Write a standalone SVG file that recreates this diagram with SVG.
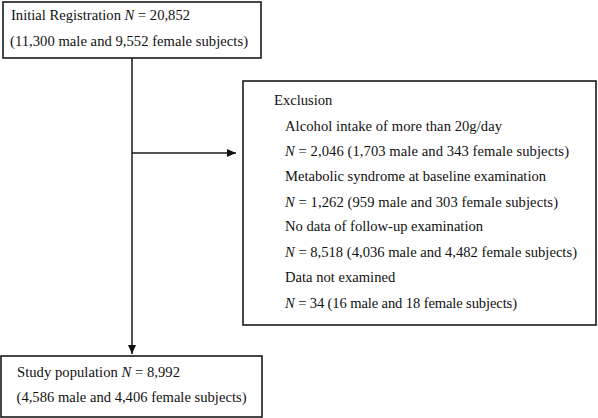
<svg xmlns="http://www.w3.org/2000/svg" width="598" height="418" viewBox="0 0 598 418">
<defs>
<style>
.box{fill:#fff;stroke:#1a1a1a;stroke-width:1.6}
.t{font-family:"Liberation Serif","Times New Roman",serif;font-size:14.6px;fill:#111}
.line{stroke:#1a1a1a;stroke-width:1.5;fill:none}
</style>
<marker id="ah" markerWidth="10" markerHeight="10" refX="9" refY="5" orient="auto" markerUnits="userSpaceOnUse">
<path d="M0,1 L9,5 L0,9 Z" fill="#111"/>
</marker>
</defs>
<rect width="598" height="418" fill="#fff"/>
<g id="connectors">
<line class="line" x1="132" y1="58" x2="132" y2="354" marker-end="url(#ah)"/>
<line class="line" x1="132" y1="153" x2="236" y2="153" marker-end="url(#ah)"/>
</g>
<g id="initial">
<rect class="box" x="3" y="2" width="258" height="56"/>
<text class="t" x="11" y="20" textLength="179">Initial Registration <tspan font-style="italic">N</tspan> = 20,852</text>
<text class="t" x="10" y="45.5" textLength="238">(11,300 male and 9,552 female subjects)</text>
</g>
<g id="exclusion">
<rect class="box" x="243" y="81" width="353" height="244"/>
<text class="t" x="274" y="105">Exclusion</text>
<text class="t" x="285" y="130.5" textLength="217">Alcohol intake of more than 20g/day</text>
<text class="t" x="285" y="155.5" textLength="284"><tspan font-style="italic">N</tspan> = 2,046 (1,703 male and 343 female subjects)</text>
<text class="t" x="285" y="181" textLength="261">Metabolic syndrome at baseline examination</text>
<text class="t" x="285" y="206.5" textLength="273"><tspan font-style="italic">N</tspan> = 1,262 (959 male and 303 female subjects)</text>
<text class="t" x="285" y="231" textLength="198">No data of follow-up examination</text>
<text class="t" x="285" y="256.5" textLength="292"><tspan font-style="italic">N</tspan> = 8,518 (4,036 male and 4,482 female subjects)</text>
<text class="t" x="285" y="282">Data not examined</text>
<text class="t" x="285" y="307.5" textLength="232"><tspan font-style="italic">N</tspan> = 34 (16 male and 18 female subjects)</text>
</g>
<g id="study">
<rect class="box" x="1" y="356" width="261" height="61"/>
<text class="t" x="17" y="377" textLength="163">Study population <tspan font-style="italic">N</tspan> = 8,992</text>
<text class="t" x="16.5" y="402" textLength="230">(4,586 male and 4,406 female subjects)</text>
</g>
</svg>
